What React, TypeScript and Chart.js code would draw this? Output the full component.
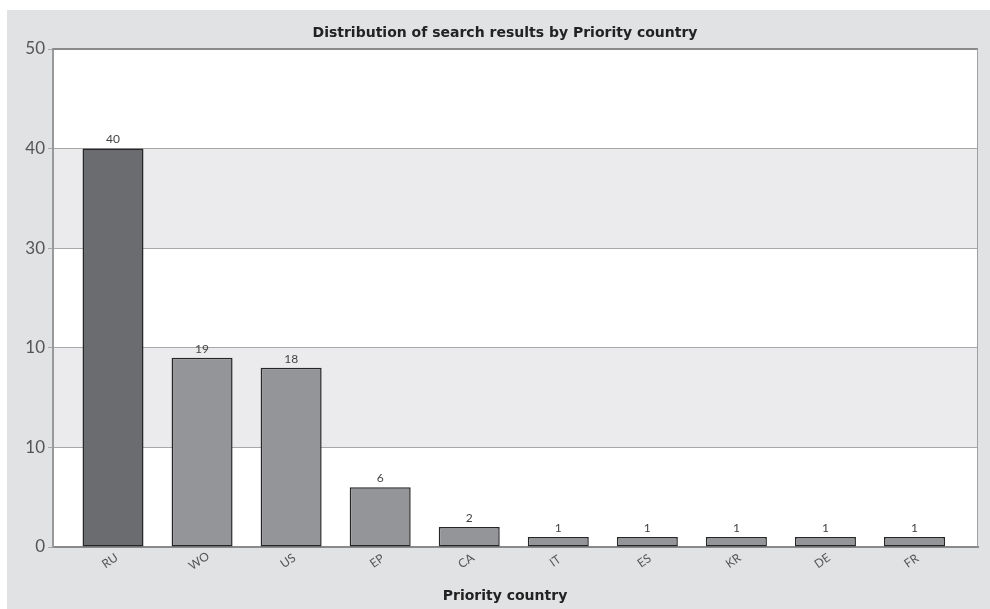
import React, { useEffect, useRef } from "react";
import { Chart, registerables } from "chart.js";

Chart.register(...registerables);

const categories = ["RU", "WO", "US", "EP", "CA", "IT", "ES", "KR", "DE", "FR"];
const counts = [40, 19, 18, 6, 2, 1, 1, 1, 1, 1];
const yTickLabels = ["0", "10", "10", "30", "40", "50"];
const chartTitle = "Distribution of search results by Priority country";
const xAxisTitle = "Priority country";

const FONT = "Lato, 'DejaVu Sans', sans-serif";
const BOLD = "'DejaVu Sans', sans-serif";

const decor = {
  id: "decor",
  beforeDraw(chart: any) {
    const { ctx, chartArea: a, scales } = chart;
    const y = scales.y;
    ctx.save();
    ctx.fillStyle = "#ffffff";
    ctx.fillRect(0, 0, chart.width, chart.height);
    ctx.fillStyle = "#e1e2e4";
    ctx.fillRect(7, 10, chart.width - 7, chart.height - 10);
    for (let v = 0; v < 50; v += 10) {
      const top = y.getPixelForValue(v + 10);
      const bot = y.getPixelForValue(v);
      ctx.fillStyle = (v / 10) % 2 === 1 ? "#ebebed" : "#ffffff";
      ctx.fillRect(a.left, top, a.right - a.left, bot - top);
    }
    ctx.restore();
  },
  afterDraw(chart: any) {
    const { ctx, chartArea: a, scales } = chart;
    const x = scales.x;
    ctx.save();
    ctx.strokeStyle = "#8a8a8a";
    ctx.lineWidth = 2;
    ctx.beginPath();
    ctx.moveTo(a.left, a.top);
    ctx.lineTo(a.right, a.top);
    ctx.stroke();
    ctx.lineWidth = 1;
    ctx.strokeStyle = "#a0a0a0";
    ctx.beginPath();
    ctx.moveTo(a.right - 0.5, a.top);
    ctx.lineTo(a.right - 0.5, a.bottom);
    ctx.stroke();
    ctx.fillStyle = "#222";
    ctx.textAlign = "center";
    ctx.textBaseline = "middle";
    ctx.font = `bold 14px ${BOLD}`;
    ctx.fillText(chartTitle, 505, 33);
    ctx.font = `bold 14px ${BOLD}`;
    ctx.fillText(xAxisTitle, 505, 596);
    ctx.fillStyle = "#555";
    ctx.font = `12px ${FONT}`;
    categories.forEach((c, i) => {
      const px = x.getPixelForValue(i);
      ctx.save();
      ctx.translate(px - 3, a.bottom + 14);
      ctx.rotate((-35 * Math.PI) / 180);
      ctx.fillText(c, 0, 0);
      ctx.restore();
    });
    const meta = chart.getDatasetMeta(0);
    ctx.fillStyle = "#444";
    ctx.font = `12px ${FONT}`;
    ctx.textBaseline = "bottom";
    meta.data.forEach((bar: any, i: number) => {
      ctx.fillText(String(counts[i]), bar.x, bar.y - 3);
    });
    ctx.restore();
  },
};

export default function App() {
  const ref = useRef<HTMLCanvasElement>(null);
  useEffect(() => {
    const chart = new Chart(ref.current!, {
      type: "bar",
      data: {
        datasets: [
          {
            data: counts.map((v, i) => ({ x: i, y: v })),
            backgroundColor: counts.map((_, i) => (i === 0 ? "#6b6c70" : "#949598")),
            borderColor: "#262626",
            borderWidth: 1.5,
            borderSkipped: false,
            categoryPercentage: 1,
            barPercentage: 0.685,
          },
        ],
      },
      options: {
        animation: false,
        responsive: false,
        layout: { padding: { top: 49, right: 12, left: 0, bottom: 0 } },
        plugins: { legend: { display: false }, tooltip: { enabled: false }, title: { display: false } },
        scales: {
          x: {
            type: "linear",
            offset: false,
            min: -0.674,
            max: 9.713,
            afterBuildTicks: (s: any) => {
              s.ticks = categories.map((_, i) => ({ value: i }));
            },
            afterFit: (s: any) => {
              s.height = 62;
            },
            ticks: { display: false },
            grid: { display: false },
            border: { display: true, color: "#8a8a8a", width: 2 },
          },
          y: {
            min: 0,
            max: 50,
            afterFit: (s: any) => {
              s.width = 53;
            },
            ticks: {
              stepSize: 10,
              padding: 3,
              color: "#555",
              font: { family: FONT, size: 17 },
              callback: (v: any) => yTickLabels[Math.round(Number(v) / 10)] ?? "",
            },
            grid: { color: "#a8a8a8", lineWidth: 1, tickLength: 5, drawOnChartArea: true },
            border: { display: true, color: "#999", width: 2 },
          },
        },
      },
      plugins: [decor],
    });
    return () => chart.destroy();
  }, []);
  return (
    <div style={{ position: "fixed", left: 0, top: 0, width: 990, height: 609 }}>
      <canvas ref={ref} width={990} height={609} style={{ width: 990, height: 609, display: "block" }} />
    </div>
  );
}
